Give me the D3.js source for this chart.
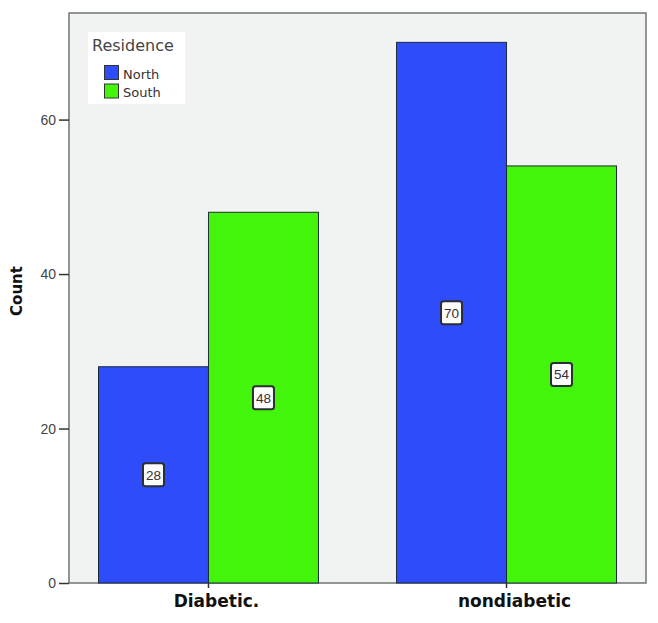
<!DOCTYPE html>
<html><head><meta charset="utf-8">
<script src="https://cdn.jsdelivr.net/npm/d3@7"></script>
<style>body{margin:0;background:#fff}svg{display:block}</style>
</head><body>
<svg id="c" width="658" height="623"></svg>
<script>
const categories = ["Diabetic.", "nondiabetic"];
const seriesNames = ["North", "South"];
const north = [28, 70];
const south = [48, 54];
const yTicks = [0, 20, 40, 60];
const colors = {North: "#2f4cfb", South: "#43f50b"};

const svg = d3.select("#c");
const L = 69, R = 646, T = 13, B = 583;
const font = "Liberation Sans, Arial, sans-serif";
const vfont = "DejaVu Sans, Verdana, sans-serif";

const x0 = d3.scaleBand().domain(categories).range([L, R]).paddingInner(0.262).paddingOuter(0.099);
const x1 = d3.scaleBand().domain(seriesNames).range([0, x0.bandwidth()]);
const y = d3.scaleLinear().domain([0, 73.8]).range([B, T]);

svg.append("rect").attr("x", L).attr("y", T).attr("width", R - L).attr("height", B - T)
  .attr("fill", "#f1f3f3").attr("stroke", "#6f7474").attr("stroke-width", 1.5);

const data = categories.map((c, i) => ({cat: c, vals: [{s: "North", v: north[i]}, {s: "South", v: south[i]}]}));

const g = svg.append("g").selectAll("g").data(data).join("g")
  .attr("transform", d => `translate(${x0(d.cat)},0)`);
g.selectAll("rect").data(d => d.vals).join("rect")
  .attr("x", d => x1(d.s)).attr("y", d => y(d.v))
  .attr("width", x1.bandwidth()).attr("height", d => y(0) - y(d.v))
  .attr("fill", d => colors[d.s]).attr("stroke", "#1d2a3a").attr("stroke-width", 1);

// value labels
const lab = g.selectAll("g.lab").data(d => d.vals).join("g").attr("class", "lab")
  .attr("transform", d => `translate(${x1(d.s) + x1.bandwidth() / 2},${y(d.v / 2)})`);
lab.append("rect").attr("x", -10.5).attr("y", -11.5).attr("width", 21).attr("height", 23).attr("rx", 2.5)
  .attr("fill", "#fbfbfb").attr("stroke", "#2a2f33").attr("stroke-width", 2);
lab.append("text").attr("text-anchor", "middle").attr("dy", "0.36em")
  .attr("font-family", font).attr("font-size", 13.5).attr("fill", "#333").text(d => d.v);

// y axis
const ya = svg.append("g").attr("transform", `translate(${L},0)`)
  .call(d3.axisLeft(y).tickValues(yTicks).tickSize(10).tickFormat(d3.format("d")));
ya.select(".domain").remove();
ya.selectAll("line").attr("stroke", "#333").attr("stroke-width", 1.5);
ya.selectAll("text").attr("font-family", font).attr("font-size", 14).attr("fill", "#444").attr("x", -13);

// x axis
const xa = svg.append("g").attr("transform", `translate(0,${B})`)
  .call(d3.axisBottom(x0).tickSize(5));
xa.select(".domain").remove();
xa.selectAll("line").attr("stroke", "#333").attr("stroke-width", 1.5);
xa.selectAll("text").attr("font-family", vfont).attr("font-size", 17).attr("font-weight", "bold")
  .attr("fill", "#111").attr("y", 24).attr("dy", 0).attr("dx", 8);

svg.append("text").attr("transform", `translate(22,291) rotate(-90)`)
  .attr("text-anchor", "middle").attr("font-family", vfont).attr("font-size", 15)
  .attr("font-weight", "bold").attr("fill", "#111").text("Count");

// legend
const lg = svg.append("g");
lg.append("rect").attr("x", 88).attr("y", 32).attr("width", 97).attr("height", 72).attr("fill", "#fff");
lg.append("text").attr("x", 92).attr("y", 51).attr("font-family", vfont).attr("font-size", 16)
  .attr("fill", "#444").text("Residence");
seriesNames.forEach((s, i) => {
  lg.append("rect").attr("x", 104.5).attr("y", 65.5 + i * 18.5).attr("width", 14).attr("height", 14)
    .attr("fill", colors[s]).attr("stroke", "#333").attr("stroke-width", 1);
  lg.append("text").attr("x", 123).attr("y", 79 + i * 18).attr("font-family", vfont).attr("font-size", 13)
    .attr("fill", "#333").text(s);
});
</script>
</body></html>
